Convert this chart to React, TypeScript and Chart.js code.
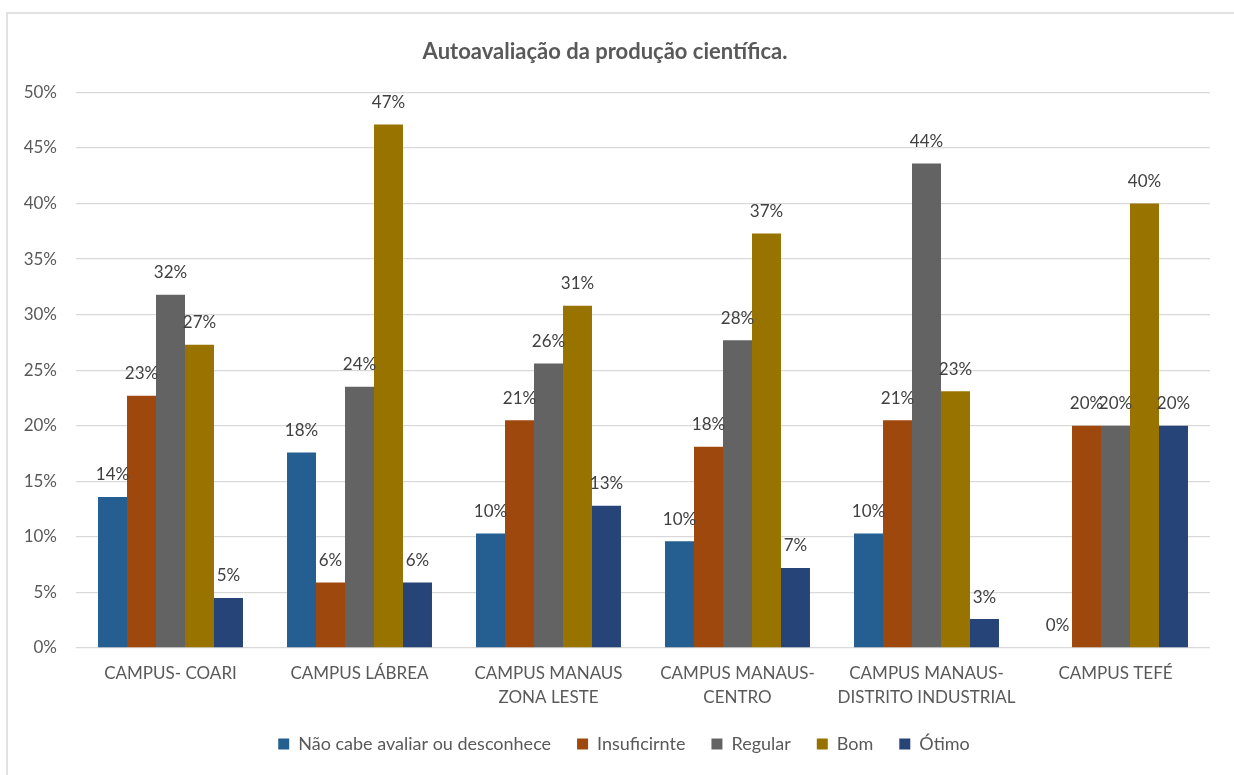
import React, { useEffect, useRef } from "react";
import { Chart, registerables } from "chart.js";

Chart.register(...registerables);

const FONT = "Lato, 'Open Sans', sans-serif";

const categories = [
  ["CAMPUS- COARI"],
  ["CAMPUS LÁBREA"],
  ["CAMPUS MANAUS", "ZONA LESTE"],
  ["CAMPUS MANAUS-", "CENTRO"],
  ["CAMPUS MANAUS-", "DISTRITO INDUSTRIAL"],
  ["CAMPUS TEFÉ"],
];

const seriesNames = ["Não cabe avaliar ou desconhece", "Insuficirnte", "Regular", "Bom", "Ótimo"];
const seriesColors = ["#255E91", "#9E480E", "#636363", "#997300", "#264478"];

const naoCabe = [13.6, 17.6, 10.3, 9.6, 10.3, 0];
const insuficiente = [22.7, 5.9, 20.5, 18.1, 20.5, 20];
const regular = [31.8, 23.5, 25.6, 27.7, 43.6, 20];
const bom = [27.3, 47.1, 30.8, 37.3, 23.1, 40];
const otimo = [4.5, 5.9, 12.8, 7.2, 2.6, 20];

const yTicks = [0, 5, 10, 15, 20, 25, 30, 35, 40, 45, 50];

const labelsPlugin = {
  id: "barValueLabels",
  afterDatasetsDraw(chart: any) {
    const ctx = chart.ctx;
    ctx.save();
    ctx.font = `17px ${FONT}`;
    ctx.fillStyle = "#404040";
    ctx.textAlign = "center";
    ctx.textBaseline = "middle";
    chart.data.datasets.forEach((ds: any, di: number) => {
      const meta = chart.getDatasetMeta(di);
      meta.data.forEach((el: any, i: number) => {
        const v = ds.data[i];
        ctx.fillText(Math.round(v) + "%", el.x, el.y - 22);
      });
    });
    ctx.restore();
  },
};

const frameAndShiftPlugin = {
  id: "frameAndShift",
  afterLayout(chart: any) {
    const lg = chart.legend;
    if (lg) {
      lg.left += 19;
      lg.right += 19;
    }
  },
  beforeDraw(chart: any) {
    const ctx = chart.ctx;
    ctx.save();
    ctx.fillStyle = "#ffffff";
    ctx.fillRect(0, 0, chart.width, chart.height);
    ctx.strokeStyle = "#d9d9d9";
    ctx.lineWidth = 1.5;
    ctx.strokeRect(7, 13, 1300, 800);
    ctx.restore();
  },
};

export default function App() {
  const ref = useRef<HTMLCanvasElement | null>(null);

  useEffect(() => {
    if (!ref.current) return;
    const series = [naoCabe, insuficiente, regular, bom, otimo];
    const chart = new Chart(ref.current, {
      type: "bar",
      data: {
        labels: categories,
        datasets: series.map((d, i) => ({
          label: seriesNames[i],
          data: d,
          backgroundColor: seriesColors[i],
          borderWidth: 0,
          categoryPercentage: 0.767,
          barPercentage: 1,
        })),
      },
      options: {
        responsive: false,
        animation: false,
        devicePixelRatio: 1,
        layout: { padding: { left: 0, right: 24, top: 0, bottom: 12 } },
        plugins: {
          title: {
            display: true,
            text: "Autoavaliação da produção científica.",
            color: "#595959",
            font: { family: FONT, size: 22, weight: "bold" },
            padding: { top: 39, bottom: 27 },
          },
          legend: {
            display: true,
            position: "bottom",
            labels: {
              color: "#595959",
              font: { family: FONT, size: 18 },
              boxWidth: 11,
              boxHeight: 11,
              padding: 26,
            },
          },
          tooltip: { enabled: false },
        },
        scales: {
          x: {
            grid: { display: false, drawTicks: false },
            border: { display: false },
            ticks: {
              color: "#595959",
              font: { family: FONT, size: 17, lineHeight: 1.45 },
              padding: 13,
              maxRotation: 0,
              autoSkip: false,
            },
            afterFit(scale: any) {
              scale.height = 61;
            },
          },
          y: {
            min: 0,
            max: 50,
            grid: { color: "#d9d9d9", lineWidth: 1.3, drawTicks: false },
            border: { display: false },
            ticks: {
              stepSize: 5,
              color: "#595959",
              font: { family: FONT, size: 17 },
              padding: 19,
              callback: (v: any) => (yTicks.includes(Number(v)) ? v + "%" : ""),
            },
            afterFit(scale: any) {
              scale.width = 76;
            },
          },
        },
      },
      plugins: [labelsPlugin, frameAndShiftPlugin],
    });
    return () => chart.destroy();
  }, []);

  return (
    <div style={{ position: "absolute", left: 0, top: 0, width: 1234, height: 775 }}>
      <canvas ref={ref} width={1234} height={775} />
    </div>
  );
}
